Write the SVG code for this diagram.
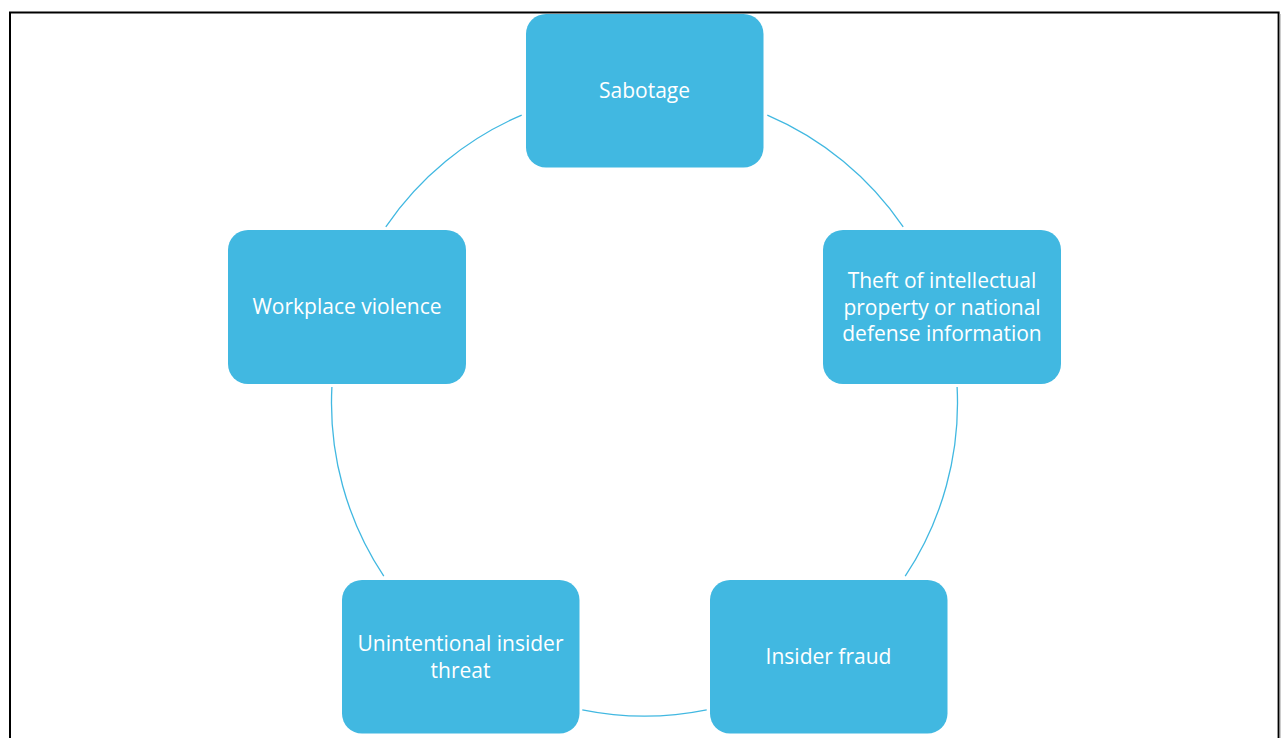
<svg xmlns="http://www.w3.org/2000/svg" width="1281" height="738" viewBox="0 0 1281 738">
<style>
.node{fill:#41B8E1;}
.lbl{fill:#FFFFFF;font-family:"Open Sans","Liberation Sans",sans-serif;font-size:21px;text-anchor:middle;dominant-baseline:central;}
.arc{fill:none;stroke:#41B8E1;stroke-width:1.3;}
</style>
<rect width="1281" height="738" fill="#FFFFFF"/>
<path d="M10,740 V12.6 H1278.6 V740" fill="none" stroke="#000000" stroke-width="2"/>
<line x1="1280" y1="14" x2="1280" y2="738" stroke="#9A9A9A" stroke-width="1"/>
<g id="connectors">
<path class="arc" d="M767.3,115.1 A313,313 0 0 1 903.2,226.8"/>
<path class="arc" d="M957.1,387 A313,313 0 0 1 905.2,576.2"/>
<path class="arc" d="M706.7,709.8 A313,313 0 0 1 582.3,709.8"/>
<path class="arc" d="M383.8,576.2 A313,313 0 0 1 331.9,387"/>
<path class="arc" d="M385.8,226.8 A313,313 0 0 1 521.7,115.1"/>
</g>
<g id="sabotage">
<rect class="node" x="526" y="14" width="237.5" height="153.5" rx="20"/>
<text class="lbl" x="644.5" y="90">Sabotage</text>
</g>
<g id="theft">
<rect class="node" x="823" y="230" width="238" height="154" rx="20"/>
<text class="lbl" x="942" y="280">Theft of intellectual</text>
<text class="lbl" x="942" y="306.5">property or national</text>
<text class="lbl" x="942" y="333">defense information</text>
</g>
<g id="insider-fraud">
<rect class="node" x="710" y="580" width="237.5" height="153.5" rx="20"/>
<text class="lbl" x="828.5" y="656">Insider fraud</text>
</g>
<g id="unintentional">
<rect class="node" x="342" y="580" width="237.5" height="153.5" rx="20"/>
<text class="lbl" x="460.5" y="643">Unintentional insider</text>
<text class="lbl" x="460.5" y="669.5">threat</text>
</g>
<g id="workplace-violence">
<rect class="node" x="228" y="230" width="238" height="154" rx="20"/>
<text class="lbl" x="347" y="306">Workplace violence</text>
</g>
</svg>
